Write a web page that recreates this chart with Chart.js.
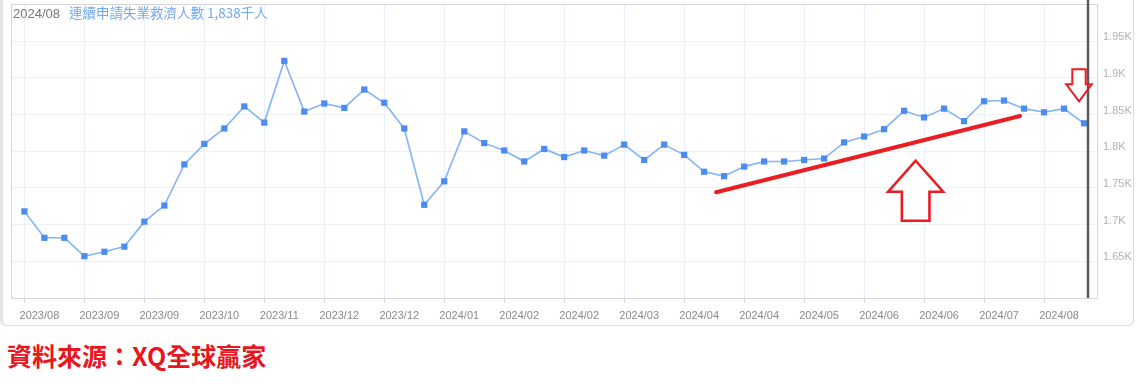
<!DOCTYPE html>
<html>
<head>
<meta charset="utf-8">
<script src="https://cdn.jsdelivr.net/npm/chart.js@4/dist/chart.umd.min.js"></script>
<style>
  html, body { margin: 0; padding: 0; background: #ffffff; }
  body { width: 1136px; height: 384px; position: relative; overflow: hidden; font-family: "Liberation Sans", "Noto Sans CJK TC", sans-serif; }
  #frame { position: absolute; left: 0; top: -2px; width: 1130px; height: 326px; border: 1px solid #dcdcdc; border-left: 3px solid #e3e3e3; border-radius: 0 0 6px 6px; }
  #wrap { position: absolute; left: 0; top: 0; width: 1136px; height: 330px; }
  #hdr { position: absolute; left: 13px; top: 4px; font-size: 13px; line-height: 16px; white-space: nowrap; }
  #hdr .d { color: #777777; font-family: "Liberation Sans", sans-serif; }
  #hdr .t { color: #72a8f2; margin-left: 9px; font-size: 13.5px; font-family: "Noto Sans CJK TC", "Liberation Sans", sans-serif; }
  #src { position: absolute; left: 7px; top: 339px; font-size: 25px; line-height: 32px; font-weight: bold; color: #e8161e; font-family: "Noto Sans CJK TC", sans-serif; white-space: nowrap; }
</style>
</head>
<body>
<div id="frame"></div>
<div id="wrap"><canvas id="c" width="1136" height="330"></canvas></div>
<div id="hdr"><span class="d">2024/08</span><span class="t">連續申請失業救濟人數 1,838千人</span></div>
<div id="src">資料來源：XQ全球贏家</div>
<script>
// ---- data (thousands of persons, weekly) ----
const claims = [
  1718, 1682, 1682, 1657, 1663, 1670, 1704, 1726, 1782, 1810,
  1831, 1861, 1839, 1923, 1854, 1865, 1859, 1884, 1866, 1831,
  1727, 1759, 1827, 1811, 1801, 1786, 1803, 1792, 1801, 1794,
  1809, 1788, 1809, 1795, 1772, 1766, 1779, 1786, 1786, 1788,
  1790, 1812, 1820, 1830, 1855, 1846, 1858, 1841, 1868, 1869,
  1858, 1853, 1858, 1838
];
const tickLabels = [
  "2023/08", "2023/09", "2023/09", "2023/10", "2023/11", "2023/12",
  "2023/12", "2024/01", "2024/02", "2024/02", "2024/03", "2024/04",
  "2024/04", "2024/05", "2024/06", "2024/06", "2024/07", "2024/08"
];
const tickEvery = 3;
const yTickValues = [1650, 1700, 1750, 1800, 1850, 1900, 1950];

// annotation anchors in data units (index, thousands)
const trendStart = [34.6, 1744];
const trendEnd = [49.8, 1848];
const upArrowTip = [44.58, 1787];
const downArrowTip = [52.75, 1868];
const cursorIndex = 53.2;

const points = claims.map((v, i) => ({ x: i, y: v }));

function arrowPath(ctx, tx, ty, dir, headW, headH, shaftW, shaftL) {
  // dir = -1 for up-pointing (tip at top), +1 for down-pointing (tip at bottom)
  const s = -dir;
  ctx.beginPath();
  ctx.moveTo(tx, ty);
  ctx.lineTo(tx + headW, ty + s * headH);
  ctx.lineTo(tx + shaftW, ty + s * headH);
  ctx.lineTo(tx + shaftW, ty + s * (headH + shaftL));
  ctx.lineTo(tx - shaftW, ty + s * (headH + shaftL));
  ctx.lineTo(tx - shaftW, ty + s * headH);
  ctx.lineTo(tx - headW, ty + s * headH);
  ctx.closePath();
}

function noPad(s) {
  s.paddingTop = 0; s.paddingBottom = 0; s.paddingLeft = 0; s.paddingRight = 0;
}

const frameAndNotes = {
  id: 'frameAndNotes',
  beforeDatasetsDraw(chart) {
    const { ctx, chartArea: a } = chart;
    ctx.save();
    ctx.strokeStyle = '#d6d6d6';
    ctx.lineWidth = 1;
    ctx.strokeRect(Math.round(a.left) + 0.5, Math.round(a.top) + 0.5, Math.round(a.right - a.left), Math.round(a.bottom - a.top));
    ctx.restore();
  },
  afterDatasetsDraw(chart) {
    const { ctx, chartArea: a, scales } = chart;
    const X = v => scales.x.getPixelForValue(v);
    const Y = v => scales.y.getPixelForValue(v);
    ctx.save();
    // red trend line
    ctx.strokeStyle = '#ea1c24';
    ctx.lineWidth = 4;
    ctx.lineCap = 'round';
    ctx.beginPath();
    ctx.moveTo(X(trendStart[0]), Y(trendStart[1]));
    ctx.lineTo(X(trendEnd[0]), Y(trendEnd[1]));
    ctx.stroke();
    // big up arrow
    ctx.lineCap = 'butt';
    ctx.lineJoin = 'miter';
    ctx.fillStyle = '#ffffff';
    ctx.lineWidth = 2.6;
    arrowPath(ctx, X(upArrowTip[0]), Y(upArrowTip[1]), -1, 27.5, 31, 13.8, 29);
    ctx.fill();
    ctx.stroke();
    // dark cursor line
    ctx.strokeStyle = '#5a5a5a';
    ctx.lineWidth = 2.5;
    ctx.beginPath();
    ctx.moveTo(X(cursorIndex), 0);
    ctx.lineTo(X(cursorIndex), a.bottom);
    ctx.stroke();
    // small down arrow
    ctx.strokeStyle = '#ea1c24';
    ctx.lineWidth = 2;
    arrowPath(ctx, X(downArrowTip[0]), Y(downArrowTip[1]), 1, 12.8, 17, 6.7, 15);
    ctx.stroke();
    ctx.restore();
  }
};

new Chart(document.getElementById('c'), {
  type: 'line',
  data: {
    datasets: [{
      data: points,
      borderColor: '#84b3f6',
      borderWidth: 1.6,
      tension: 0,
      pointStyle: 'rect',
      pointRadius: 4.4,
      pointBackgroundColor: '#4b8cf3',
      pointBorderColor: '#4b8cf3',
      pointBorderWidth: 0,
      clip: false
    }]
  },
  options: {
    responsive: false,
    animation: false,
    devicePixelRatio: 1,
    layout: { padding: { left: 11, top: 1, right: 0, bottom: 0 } },
    plugins: { legend: { display: false }, tooltip: { enabled: false } },
    scales: {
      x: {
        type: 'linear',
        min: -0.67,
        max: 53.65,
        afterBuildTicks: s => { s.ticks = tickLabels.map((_, i) => ({ value: i * tickEvery })); },
        afterFit: s => { s.height = 32; noPad(s); },
        border: { display: false },
        grid: { color: '#e6f1fb', lineWidth: 1, drawTicks: true, tickLength: 5, tickColor: '#d6d6d6' },
        ticks: {
          autoSkip: false,
          maxRotation: 0,
          labelOffset: 15,
          padding: 6,
          color: '#8a8a8a',
          font: { family: 'Liberation Sans', size: 11 },
          callback: v => tickLabels[Math.round(v / tickEvery)]
        }
      },
      y: {
        position: 'right',
        min: 1600,
        max: 2000,
        afterBuildTicks: s => { s.ticks = yTickValues.map(v => ({ value: v })); },
        afterFit: s => { s.width = 39; noPad(s); },
        border: { display: false },
        grid: { color: '#eef1f5', lineWidth: 1, drawTicks: false },
        ticks: {
          padding: 6,
          labelOffset: -4,
          color: '#b2b2b2',
          font: { family: 'Liberation Sans', size: 11 },
          callback: v => (v / 1000) + 'K'
        }
      }
    }
  },
  plugins: [frameAndNotes]
});
</script>
</body>
</html>
